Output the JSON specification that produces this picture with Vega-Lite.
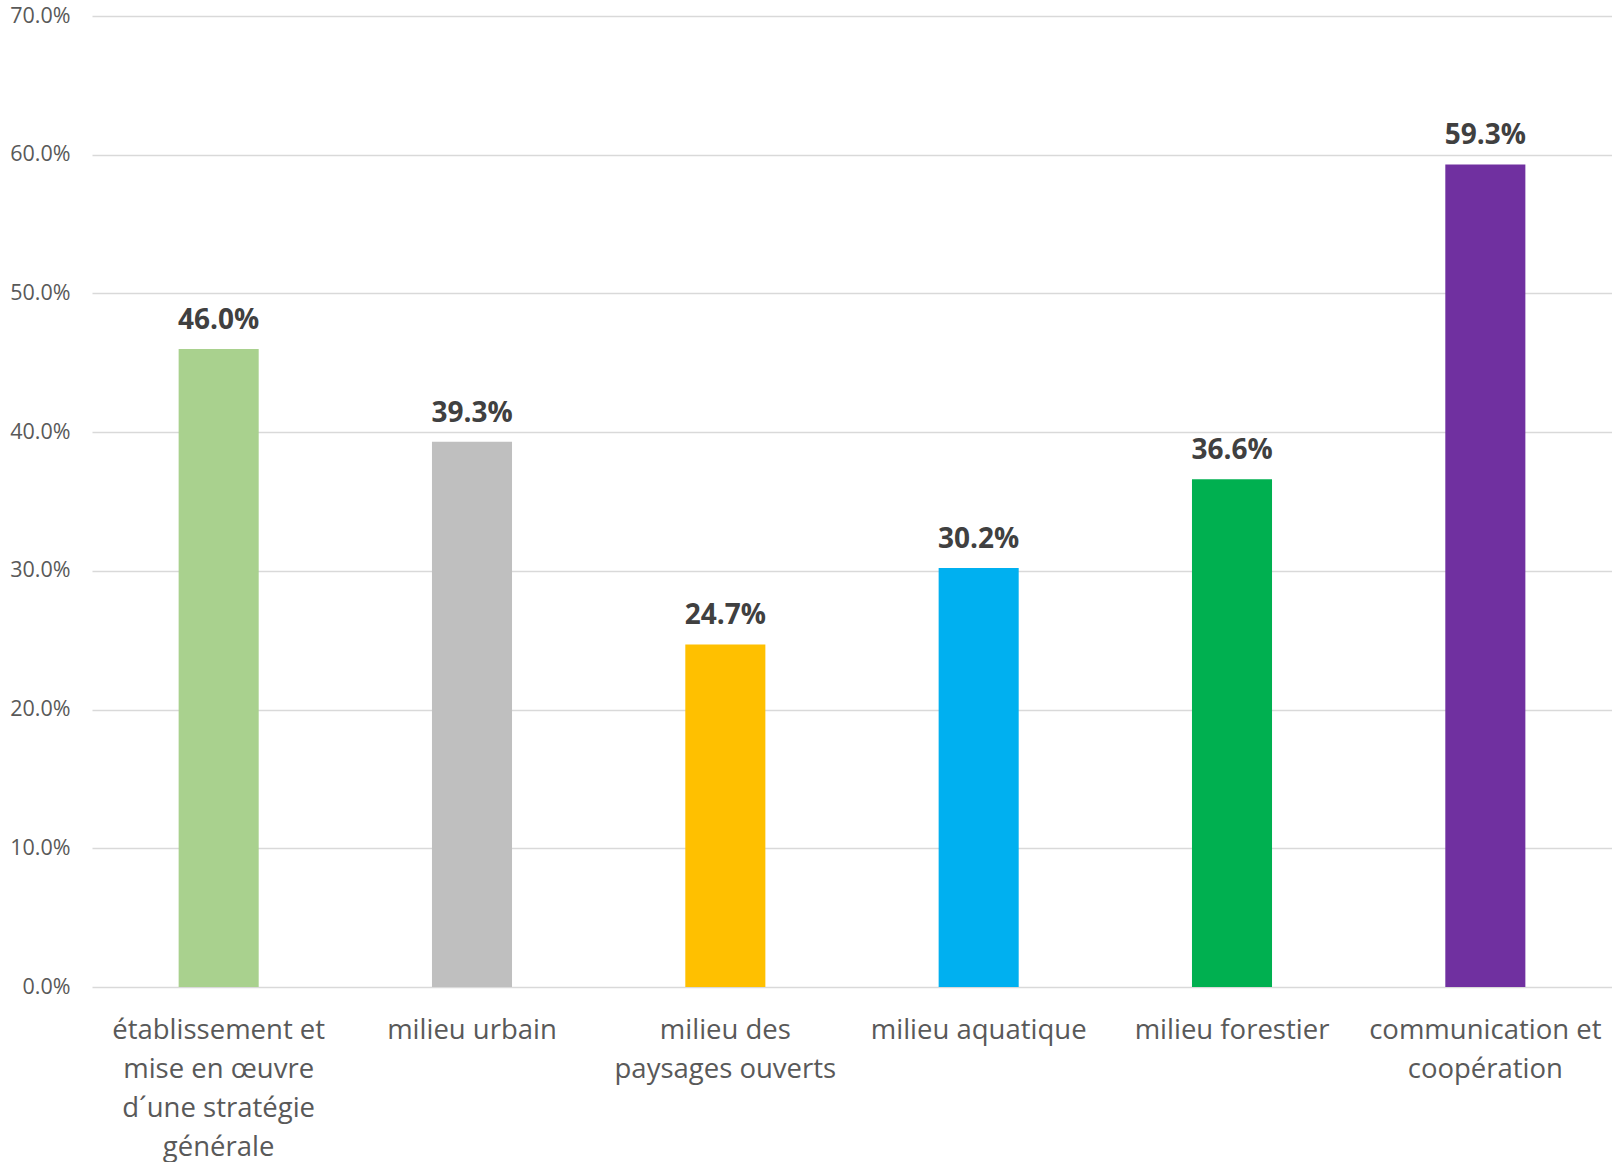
{
  "$schema": "https://vega.github.io/schema/vega-lite/v6.json",
  "width": 1520,
  "height": 971,
  "autosize": "none",
  "padding": {"left": 92, "top": 16, "right": 0, "bottom": 175},
  "background": "white",
  "data": {
    "values": [
      {"cat": "établissement et|mise en œuvre|d´une stratégie|générale", "value": 0.46, "color": "#A9D18E"},
      {"cat": "milieu urbain", "value": 0.393, "color": "#BFBFBF"},
      {"cat": "milieu des|paysages ouverts", "value": 0.247, "color": "#FFC000"},
      {"cat": "milieu aquatique", "value": 0.302, "color": "#00B0F0"},
      {"cat": "milieu forestier", "value": 0.366, "color": "#00B050"},
      {"cat": "communication et|coopération", "value": 0.593, "color": "#7030A0"}
    ]
  },
  "config": {
    "view": {"stroke": null},
    "font": "Open Sans"
  },
  "encoding": {
    "x": {
      "field": "cat",
      "type": "nominal",
      "sort": null,
      "scale": {"paddingInner": 0.684, "paddingOuter": 0.342},
      "axis": {
        "title": null,
        "labelAngle": 0,
        "domain": false,
        "ticks": false,
        "labelFont": "Open Sans",
        "labelFontSize": 27.5,
        "labelColor": "#595959",
        "labelLineHeight": 39,
        "labelPadding": 29,
        "labelLimit": 400,
        "labelExpr": "split(datum.label, '|')"
      }
    },
    "y": {
      "field": "value",
      "type": "quantitative",
      "scale": {"domain": [0, 0.7]},
      "axis": {
        "title": null,
        "format": ".1%",
        "values": [0, 0.1, 0.2, 0.3, 0.4, 0.5, 0.6, 0.7],
        "domain": false,
        "ticks": false,
        "labelFont": "Open Sans",
        "labelFontSize": 21.5,
        "labelColor": "#595959",
        "labelPadding": 22,
        "gridColor": "#D9D9D9",
        "gridWidth": 1.5
      }
    }
  },
  "layer": [
    {
      "mark": {"type": "bar"},
      "encoding": {
        "color": {"field": "color", "type": "nominal", "scale": null, "legend": null}
      }
    },
    {
      "mark": {"type": "text", "baseline": "alphabetic", "dy": -20, "fontSize": 28, "fontWeight": "bold", "color": "#404040", "font": "Open Sans"},
      "encoding": {
        "text": {"field": "value", "type": "quantitative", "format": ".1%"}
      }
    }
  ]
}
